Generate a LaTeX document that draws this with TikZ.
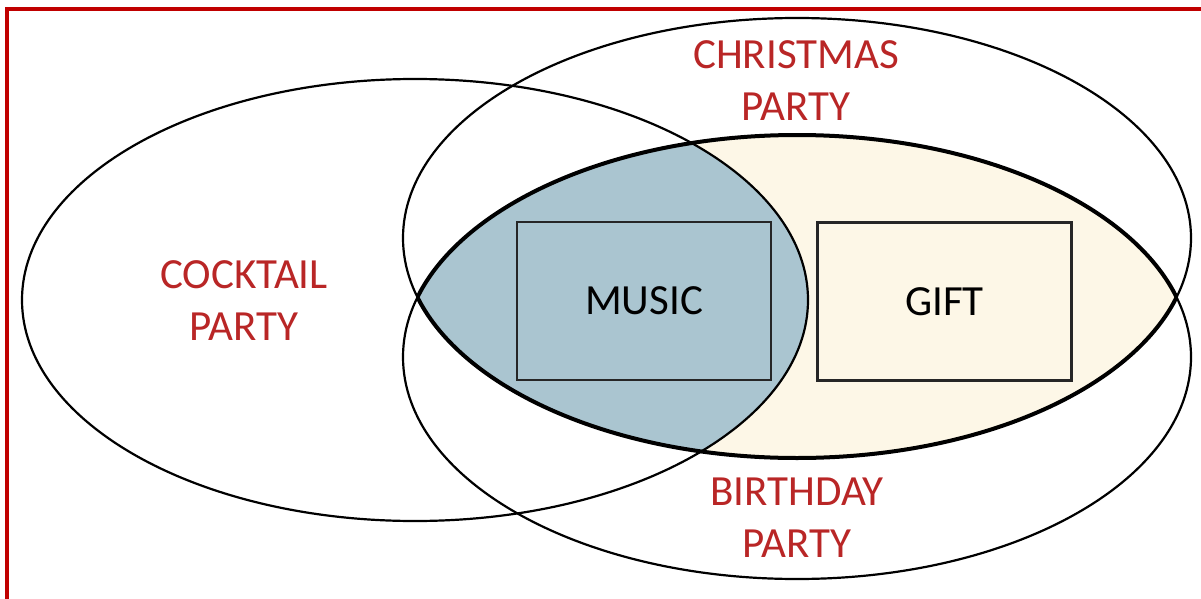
\documentclass[tikz,border=0pt]{standalone}
\usepackage{fontspec}
\setmainfont{Carlito}
\definecolor{framered}{RGB}{192,0,0}
\definecolor{labelred}{RGB}{185,38,38}
\definecolor{musicblue}{RGB}{170,197,208}
\definecolor{giftcream}{RGB}{253,247,231}
\tikzset{
  setline/.style={draw=black, line width=2.2pt},
  lensline/.style={draw=black, line width=4pt},
  itembox/.style={draw=black!85, line width=2.6pt, minimum width=254pt, minimum height=158pt, inner sep=0pt,
    font=\fontsize{43}{52}\selectfont},
  setlabel/.style={text=labelred, align=center, font=\fontsize{43}{52}\selectfont}
}
\begin{document}
\begin{tikzpicture}[x=1pt,y=-1pt]
  \clip (0,0) rectangle (1201,599);
  \fill[white] (0,0) rectangle (1201,599);
  % the three party sets
  \def\christmas{(797,238) ellipse [x radius=394, y radius=220]}
  \def\birthday{(797,357) ellipse [x radius=394, y radius=222]}
  \def\cocktail{(415,300) ellipse [x radius=393, y radius=221]}
  % Christmas and birthday overlap
  \begin{scope}
    \clip \christmas;
    \fill[giftcream] \birthday;
  \end{scope}
  % all three overlap
  \begin{scope}
    \clip \christmas;
    \clip \birthday;
    \fill[musicblue] \cocktail;
  \end{scope}
  \draw[setline] \christmas;
  \draw[setline] \birthday;
  \draw[setline] \cocktail;
  % bold outline of the Christmas/birthday lens
  \begin{scope}
    \clip \christmas;
    \draw[lensline] \birthday;
  \end{scope}
  \begin{scope}
    \clip \birthday;
    \draw[lensline] \christmas;
  \end{scope}
  % items
  \node[itembox, fill=musicblue] (music) at (644,301) {MUSIC};
  \node[itembox, fill=giftcream] (gift) at (944.5,301.5) {GIFT};
  % set labels
  \node[setlabel] (christmaslbl) at (796,81) {CHRISTMAS\\PARTY};
  \node[setlabel] (cocktaillbl) at (244,301) {COCKTAIL\\PARTY};
  \node[setlabel] (birthdaylbl) at (797,518) {BIRTHDAY\\PARTY};
  % frame
  \draw[framered, line width=4.5pt] (7,9) rectangle (1260,660);
\end{tikzpicture}
\end{document}
